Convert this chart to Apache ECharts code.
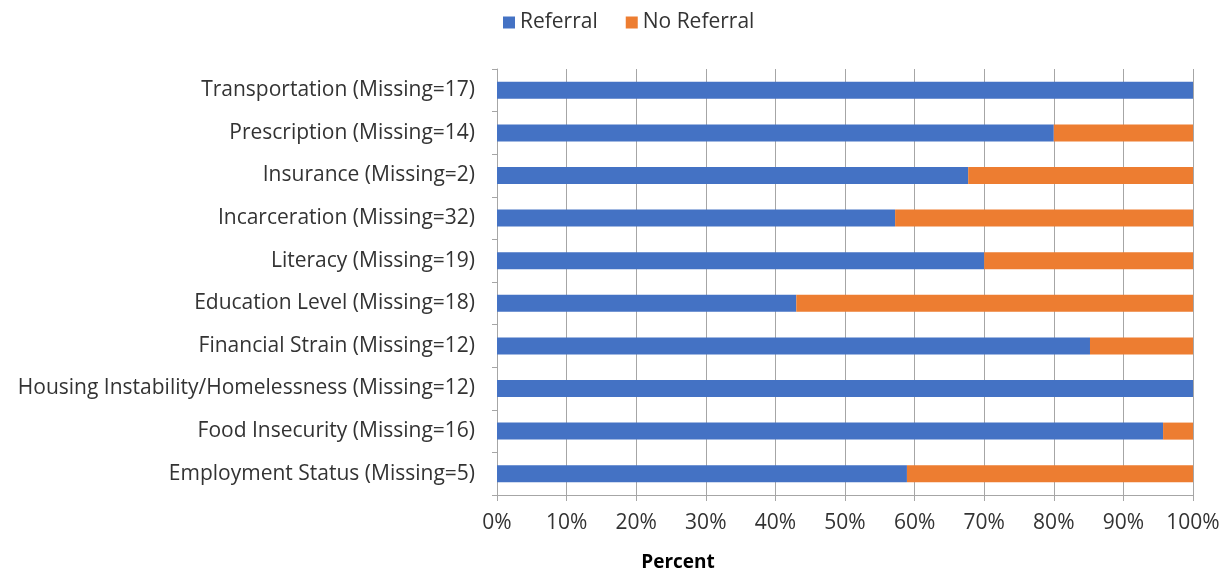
<!DOCTYPE html>
<html>
<head>
<meta charset="utf-8">
<script src="https://cdn.jsdelivr.net/npm/echarts@6/dist/echarts.min.js"></script>
<style>html,body{margin:0;padding:0;background:#fff}#c{width:1227px;height:571px}</style>
</head>
<body>
<div id="c"></div>
<script>
var categories = [
  "Transportation (Missing=17)",
  "Prescription (Missing=14)",
  "Insurance (Missing=2)",
  "Incarceration (Missing=32)",
  "Literacy (Missing=19)",
  "Education Level (Missing=18)",
  "Financial Strain (Missing=12)",
  "Housing Instability/Homelessness (Missing=12)",
  "Food Insecurity (Missing=16)",
  "Employment Status (Missing=5)"
];
var referral =   [100, 80, 67.7, 57.2, 70, 43.0, 85.2, 100, 95.7, 58.9];
var noReferral = [0, 20, 32.3, 42.8, 30, 57.0, 14.8, 0, 4.3, 41.1];
var xTicks = [0, 10, 20, 30, 40, 50, 60, 70, 80, 90, 100];

var FONT = "Open Sans";
var chart = echarts.init(document.getElementById('c'));
chart.setOption({
  animation: false,
  textStyle: {fontFamily: FONT},
  color: ['#4472C4', '#ED7D31'],
  title: {
    text: 'Percent',
    left: 673, top: 548, textAlign: 'center',
    textStyle: {fontFamily: FONT, fontSize: 19, fontWeight: 'bold', color: '#000'}
  },
  legend: {
    top: 7, left: 498,
    itemWidth: 12, itemHeight: 12, itemGap: 28, icon: 'rect',
    textStyle: {fontFamily: FONT, fontSize: 21, color: '#333333'},
    data: ['Referral', 'No Referral']
  },
  grid: {left: 497, right: 34, top: 69, bottom: 76, containLabel: false},
  xAxis: {
    type: 'value', min: xTicks[0], max: xTicks[xTicks.length - 1], interval: 10,
    axisLine: {show: true, lineStyle: {color: '#a6a6a6'}},
    axisTick: {show: true, length: 6, lineStyle: {color: '#a6a6a6'}},
    splitLine: {show: true, lineStyle: {color: '#a6a6a6'}},
    axisLabel: {formatter: '{value}%', fontFamily: FONT, fontSize: 21, color: '#333333', margin: 18}
  },
  yAxis: {
    type: 'category', inverse: true, data: categories,
    axisLine: {show: true, lineStyle: {color: '#a6a6a6'}},
    axisTick: {show: true, length: 5, lineStyle: {color: '#a6a6a6'}},
    axisLabel: {fontFamily: FONT, fontSize: 21, color: '#333333', margin: 22}
  },
  series: [
    {name: 'Referral', type: 'bar', stack: 's', data: referral, barCategoryGap: '60%'},
    {name: 'No Referral', type: 'bar', stack: 's', data: noReferral, barCategoryGap: '60%'}
  ]
});
</script>
</body>
</html>
